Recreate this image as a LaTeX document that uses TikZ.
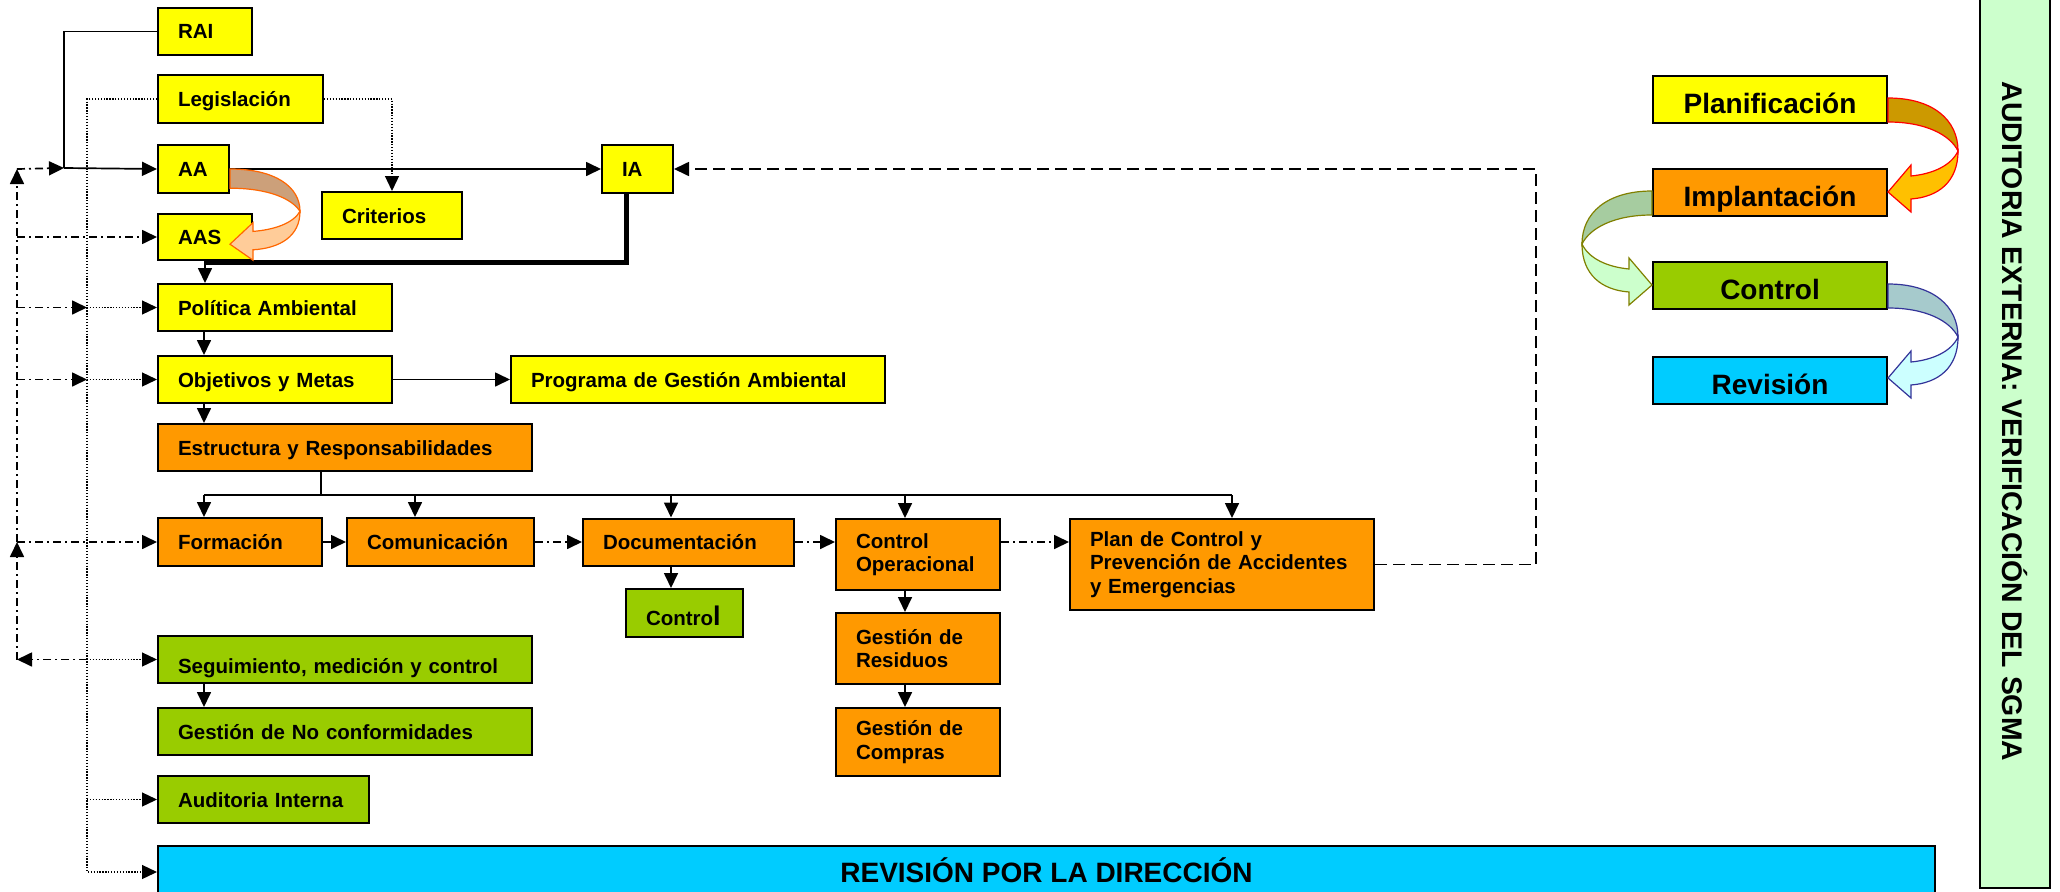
\documentclass[tikz,border=0pt]{standalone}
\usepackage{fontspec}
\setmainfont{Liberation Sans}
\usetikzlibrary{arrows.meta,positioning}
\definecolor{yel}{RGB}{255,255,0}
\definecolor{org}{RGB}{255,153,0}
\definecolor{grn}{RGB}{153,204,0}
\definecolor{cyn}{RGB}{0,204,255}
\definecolor{pale}{RGB}{204,255,204}
\definecolor{gold}{RGB}{204,153,0}
\definecolor{amber}{RGB}{255,192,0}
\definecolor{sage}{RGB}{166,204,160}
\definecolor{mint}{RGB}{204,255,204}
\definecolor{olv}{RGB}{128,128,0}
\definecolor{tealgray}{RGB}{166,202,204}
\definecolor{ice}{RGB}{204,255,255}
\definecolor{navyb}{RGB}{51,51,153}
\definecolor{tanb}{RGB}{204,160,122}
\definecolor{peach}{RGB}{255,204,153}
\definecolor{rust}{RGB}{255,102,0}

\begin{document}
\begin{tikzpicture}[x=1pt,y=-1pt,
  box/.style={draw,line width=2pt,anchor=north west,inner xsep=20pt,inner ysep=0pt,align=left,text height=15pt,font={\fontsize{20.5}{23.5}\selectfont\bfseries}},
  one/.style={text depth=0pt},
  phase/.style={draw,line width=2pt,minimum width=234pt,minimum height=47pt,inner sep=0pt,text height=27pt,text depth=0pt,font={\fontsize{28}{32}\selectfont\bfseries}},
  a/.style={line width=1.7pt,-{Triangle[length=15pt,width=14pt]}},
  ln/.style={line width=1.7pt},
  dd/.style={a,dash pattern=on 8pt off 4pt on 2pt off 4pt},
  dt/.style={a,line width=1.3pt,dash pattern=on 1.3pt off 1.6pt},
  dsh/.style={a,dash pattern=on 12pt off 6pt},
  pics/ribbon/.style n args={3}{code={
    \draw[draw=#3,line width=1.2pt,fill=#1] (0,0) .. controls (45,0) and (70,22) .. (70,53)
      .. controls (62,37) and (38,24) .. (0,24) -- cycle;
    \draw[draw=#3,line width=1.2pt,fill=#2] (70,53) .. controls (70,84) and (50,99) .. (23,101)
      -- (23,114) -- (0,94) -- (23,67) -- (23,78) .. controls (44,76) and (63,68) .. (70,53) -- cycle;
  }}]
  \useasboundingbox (0,0) rectangle (2060,891);

  % planificacion
  \node[box,fill=yel,one,text width=54pt,minimum height=47pt] (rai) at (157,7) {RAI};
  \node[box,fill=yel,one,text width=125pt,minimum height=48pt] (legis) at (157,74) {Legislación};
  \node[box,fill=yel,one,text width=31pt,minimum height=48pt] (aa) at (157,144) {AA};
  \node[box,fill=yel,one,text width=31pt,minimum height=48pt] (ia) at (601,144) {IA};
  \node[box,fill=yel,one,text width=100pt,minimum height=47pt] (crit) at (321,191) {Criterios};
  \node[box,fill=yel,one,text width=54pt,minimum height=46pt] (aas) at (157,213) {AAS};
  \node[box,fill=yel,one,text width=194pt,minimum height=47pt] (pol) at (157,283) {Política Ambiental};
  \node[box,fill=yel,one,text width=194pt,minimum height=47pt,below=23pt of pol] (obj) {Objetivos y Metas};
  \node[box,fill=yel,one,text width=334pt,minimum height=47pt,right=117pt of obj] (prog) {Programa de Gestión Ambiental};

  % implantacion
  \node[box,fill=org,one,text width=334pt,minimum height=47pt] (estr) at (157,423) {Estructura y Responsabilidades};
  \node[box,fill=org,one,text width=124pt,minimum height=48pt] (form) at (157,517) {Formación};
  \node[box,fill=org,one,text width=147pt,minimum height=48pt,right=23pt of form] (comm) {Comunicación};
  \node[box,fill=org,one,text width=171pt,minimum height=47pt,right=47pt of comm] (docu) {Documentación};
  \node[box,fill=grn,one,text height=24pt,text width=77pt,minimum height=48pt] (ctrl) at (625,588) {Contro{\fontsize{27}{27}\selectfont l}};
  \node[box,fill=org,text width=124pt,minimum height=71pt] (cop) at (835,518) {Control\\Operacional};
  \node[box,fill=org,text width=124pt,minimum height=71pt,below=21pt of cop] (resid) {Gestión de\\Residuos};
  \node[box,fill=org,text width=124pt,minimum height=68pt,below=22pt of resid] (compr) {Gestión de\\Compras};
  \node[box,fill=org,text width=264pt,minimum height=91pt] (plan) at (1069,518) {Plan de Control y\\Prevención de Accidentes\\y Emergencias};

  % control y revision
  \node[box,fill=grn,one,text height=27pt,text width=334pt,minimum height=47pt] (segu) at (157,635) {Seguimiento, medición y control};
  \node[box,fill=grn,one,text width=334pt,minimum height=47pt,below=23pt of segu] (gnc) {Gestión de No conformidades};
  \node[box,fill=grn,one,text width=171pt,minimum height=47pt] (audi) at (157,775) {Auditoria Interna};
  \node[draw,line width=2pt,fill=cyn,anchor=north west,minimum width=1777pt,minimum height=52pt,inner sep=0pt,
    text height=20pt,text depth=0pt,font={\fontsize{28}{32}\selectfont\bfseries}] (revd) at (157,845) {REVISIÓN POR LA DIRECCIÓN};

  % ciclo
  \node[phase,fill=yel] (planif) at (1770,99.5) {Planificación};
  \node[phase,fill=org,below=44pt of planif] (impl) {Implantación};
  \node[phase,fill=grn,below=44pt of impl] (contr) {Control};
  \node[phase,fill=cyn,below=46pt of contr] (revi) {Revisión};
  \node[draw,line width=2pt,fill=pale,rotate=-90,minimum width=933pt,minimum height=70pt,inner sep=0pt,
    font={\fontsize{28.4}{32}\selectfont\bfseries}] (ext) at (2015,421.5) {AUDITORIA EXTERNA: VERIFICACIÓN DEL SGMA};

  \coordinate (jn) at (64,168);
  \coordinate (lx) at (17,0);
  \coordinate (dl) at (87,99);
  \coordinate (spine) at (204,0);
  \coordinate (j1) at (204,262);
  \coordinate (bus) at (321,495);
  \coordinate (b2) at (415,495);
  \coordinate (b3) at (671,495);
  \coordinate (b4) at (905,495);
  \coordinate (b5) at (1232,495);
  \coordinate (rx) at (1536,0);

  % flujo principal
  \draw[ln] (rai.west) -| (jn);
  \draw[a] (jn) -- (aa.west);
  \draw[a] (aa.east) -- (ia.west);
  \draw[line width=5pt] ([xshift=-11.5pt]ia.south) |- (j1);
  \draw[a] (aas.south) -- (aas.south |- pol.north);
  \draw[a] (spine |- pol.south) -- (spine |- obj.north);
  \draw[a] (spine |- obj.south) -- (spine |- estr.north);
  \draw[a] (obj.east) -- (prog.west);
  \draw[ln] (bus |- estr.south) -- (bus);
  \draw[ln] (spine |- bus) -- (b5);
  \draw[a] (spine |- bus) -- (spine |- form.north);
  \draw[a] (b2) -- (b2 |- comm.north);
  \draw[a] (b3) -- (b3 |- docu.north);
  \draw[a] (b4) -- (b4 |- cop.north);
  \draw[a] (b5) -- (b5 |- plan.north);
  \draw[a] (form.east) -- (form.east -| comm.west);
  \draw[dd] (comm.east) -- (comm.east -| docu.west);
  \draw[dd] (docu.east) -- (docu.east -| cop.west);
  \draw[dd] (docu.east -| cop.east) -- (docu.east -| plan.west);
  \draw[a] (b3 |- docu.south) -- (b3 |- ctrl.north);
  \draw[a] (b4 |- cop.south) -- (b4 |- resid.north);
  \draw[a] (b4 |- resid.south) -- (b4 |- compr.north);
  \draw[a] (spine |- segu.south) -- (spine |- gnc.north);
  \draw[dsh] (plan.east) -| (rx |- ia.east) -- (ia.east);

  % legislacion (punteado)
  \draw[dt] (legis.west) -| (dl |- revd.west) -- (revd.west);
  \draw[dt] (dl |- pol.west) -- (pol.west);
  \draw[dt] (dl |- obj.west) -- (obj.west);
  \draw[dt] (dl |- segu.west) -- (segu.west);
  \draw[dt] (dl |- audi.west) -- (audi.west);
  \draw[dt] (legis.east) -| (crit.north);

  % retroalimentacion
  \draw[dd] (dl |- segu.west) -- (lx |- segu.west);
  \draw[dd] (lx |- segu.west) -- (lx |- form.west);
  \draw[dd] (lx |- form.west) -- (lx |- aa.west);
  \draw[dd] (lx |- aa.west) -- (jn);
  \draw[dd] (lx |- aas.west) -- (aas.west);
  \draw[dd] (lx |- pol.west) -- (dl |- pol.west);
  \draw[dd] (lx |- obj.west) -- (dl |- obj.west);
  \draw[dd] (lx |- form.west) -- (form.west);

  % flechas curvas
  \pic[yscale=0.8] at (aa.east) {ribbon={tanb}{peach}{rust}};
  \pic at ([yshift=-23pt]planif.north east) {ribbon={gold}{amber}{red}};
  \pic[xscale=-1] at ([yshift=-23pt]impl.north west) {ribbon={sage}{mint}{olv}};
  \pic at ([yshift=-23pt]contr.north east) {ribbon={tealgray}{ice}{navyb}};
\end{tikzpicture}
\end{document}
